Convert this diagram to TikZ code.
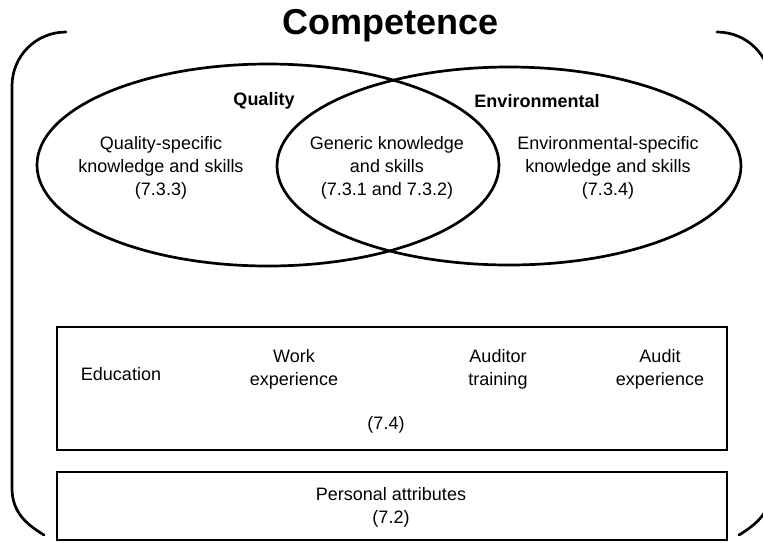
\documentclass[tikz,border=0pt]{standalone}
\usepackage{fontspec}
\setmainfont{Liberation Sans}
\usetikzlibrary{shapes.geometric}
\tikzset{
  venn/.style={ellipse, draw, line width=2.7pt, inner sep=0pt},
  panel/.style={rectangle, draw, line width=2.3pt, inner sep=0pt},
  txt/.style={align=center, inner sep=0pt, font=\fontsize{18}{23}\selectfont},
  bold/.style={inner sep=0pt, font=\fontsize{18}{23}\selectfont\bfseries},
  bracket/.style={line width=2.7pt, line cap=round}
}
\begin{document}
\begin{tikzpicture}[x=1pt, y=-1pt]
\useasboundingbox (0,0) rectangle (763,542);
\clip (0,0) rectangle (763,542);
\fill[white] (0,0) rectangle (763,542);
% title
\node[inner sep=0pt, anchor=base, font=\fontsize{36}{40}\selectfont\bfseries] (title) at (391,34) {Competence};
% outer bracket
\draw[bracket] (66,32) .. controls (36,32) and (12,56) .. (12,86) -- (12,488) .. controls (12,512) and (26,524) .. (44,535);
\draw[bracket] (717,32) .. controls (747,32) and (771,56) .. (771,86) -- (771,488) .. controls (771,512) and (757,524) .. (739,535);
% ellipses
\node[venn, minimum width=462pt, minimum height=202pt] (qual) at (268,165) {};
\node[venn, minimum width=464pt, minimum height=198pt] (env) at (509,166) {};
\node[bold] (qlabel) at (264,101) {Quality};
\node[bold] (elabel) at (537,101) {Environmental};
\node[txt] (qtext) at (161,168) {Quality-specific\\knowledge and skills\\(7.3.3)};
\node[txt] (gtext) at (387,168) {Generic knowledge\\and skills\\(7.3.1 and 7.3.2)};
\node[txt] (etext) at (608,168) {Environmental-specific\\knowledge and skills\\(7.3.4)};
% boxes
\node[panel, minimum width=670pt, minimum height=123pt] (box1) at (392,388.5) {};
\node[panel, minimum width=670pt, minimum height=68pt] (box2) at (392,506) {};
\node[txt] (edu) at (121,374) {Education};
\node[txt] (work) at (294,369) {Work\\experience};
\node[txt] (train) at (498,369) {Auditor\\training};
\node[txt] (audit) at (660,369) {Audit\\experience};
\node[txt] (sec74) at (386,425) {(7.4)};
\node[txt] (pers) at (391,507) {Personal attributes\\(7.2)};
\end{tikzpicture}
\end{document}
